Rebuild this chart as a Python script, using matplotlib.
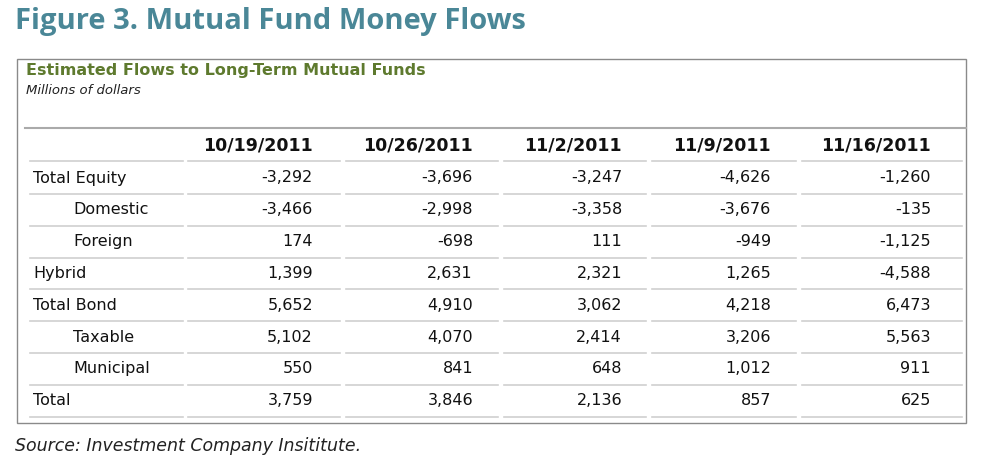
import matplotlib
matplotlib.use("Agg")
import matplotlib.pyplot as plt

dates = ["10/19/2011", "10/26/2011", "11/2/2011", "11/9/2011", "11/16/2011"]
row_labels = ["Total Equity", "Domestic", "Foreign", "Hybrid", "Total Bond", "Taxable", "Municipal", "Total"]
indented = [False, True, True, False, False, True, True, False]
values = [
    ["-3,292", "-3,696", "-3,247", "-4,626", "-1,260"],
    ["-3,466", "-2,998", "-3,358", "-3,676", "-135"],
    ["174", "-698", "111", "-949", "-1,125"],
    ["1,399", "2,631", "2,321", "1,265", "-4,588"],
    ["5,652", "4,910", "3,062", "4,218", "6,473"],
    ["5,102", "4,070", "2,414", "3,206", "5,563"],
    ["550", "841", "648", "1,012", "911"],
    ["3,759", "3,846", "2,136", "857", "625"],
]

fig = plt.figure(figsize=(10, 4.68), dpi=100)
ax = fig.add_axes([0, 0, 1, 1])
ax.set_xlim(0, 1000); ax.set_ylim(468, 0); ax.axis("off")

ax.text(15, 22, "Figure 3. Mutual Fund Money Flows", fontsize=21, fontweight="bold",
        color="#4a8797", va="center", family="Open Sans")
ax.add_patch(plt.Rectangle((17, 59), 949, 364, fill=False, ec="#8a8a8a", lw=1))
ax.text(26, 71, "Estimated Flows to Long-Term Mutual Funds", fontsize=11.5, fontweight="bold",
        color="#5e7a2e", va="center")
ax.text(26, 91, "Millions of dollars", fontsize=9.5, style="italic", color="#222", va="center")
ax.plot([25, 966], [128, 128], color="#aaaaaa", lw=1.5)

col_right = [313, 473, 622, 771, 931]
col_spans = [(30, 183), (188, 340), (346, 498), (504, 646), (652, 796), (802, 962)]

def rule(y):
    for a, b in col_spans:
        ax.plot([a, b], [y, y], color="#d0d0d0", lw=1.2)

for x, d in zip(col_right, dates):
    ax.text(x, 146, d, ha="right", va="center", fontsize=12.5, fontweight="bold", color="#111")
rule(161)
y0, step = 178, 31.8
for i, (lab, ind, vals) in enumerate(zip(row_labels, indented, values)):
    y = y0 + i * step
    ax.text(73 if ind else 33, y, lab, va="center", fontsize=11.5, color="#111")
    for x, v in zip(col_right, vals):
        ax.text(x, y, v, ha="right", va="center", fontsize=11.5, color="#111")
    rule(y + 16)

ax.text(15, 446, "Source: Investment Company Insititute.", fontsize=12.5, style="italic",
        color="#222", va="center")
fig.savefig("out.png", dpi=100, facecolor="white")
